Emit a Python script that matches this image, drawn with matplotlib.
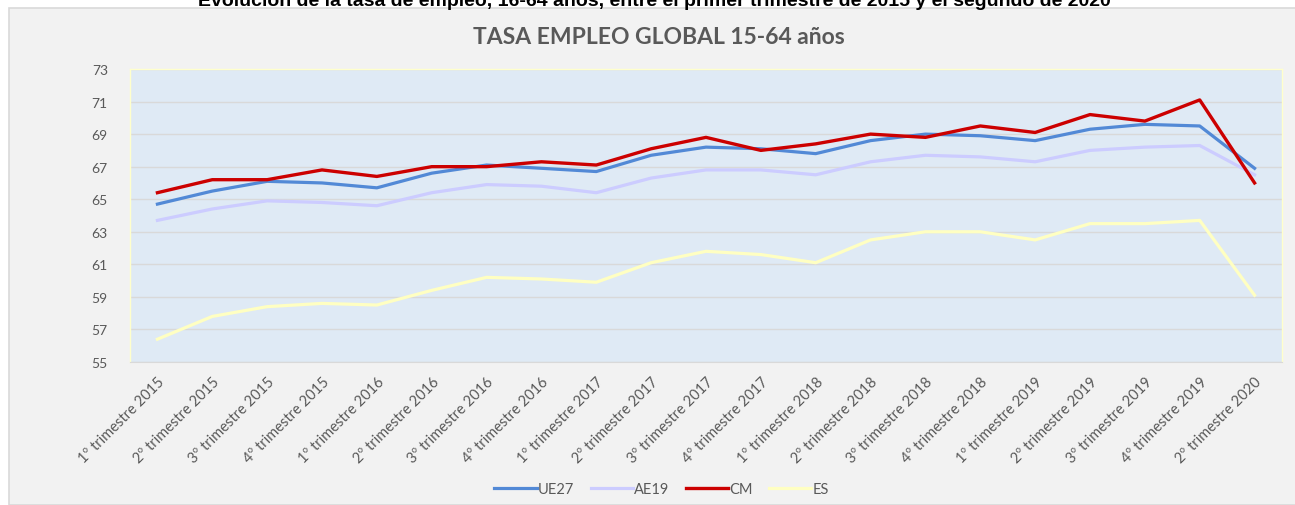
import matplotlib.pyplot as plt
from matplotlib.patches import Rectangle

plt.rcParams['font.family'] = ['Lato', 'DejaVu Sans']

trimestres = [
    "1º trimestre 2015", "2º trimestre 2015", "3º trimestre 2015", "4º trimestre 2015",
    "1º trimestre 2016", "2º trimestre 2016", "3º trimestre 2016", "4º trimestre 2016",
    "1º trimestre 2017", "2º trimestre 2017", "3º trimestre 2017", "4º trimestre 2017",
    "1º trimestre 2018", "2º trimestre 2018", "3º trimestre 2018", "4º trimestre 2018",
    "1º trimestre 2019", "2º trimestre 2019", "3º trimestre 2019", "4º trimestre 2019",
    "2º trimestre 2020",
]

ue27 = [64.7, 65.5, 66.1, 66.0, 65.7, 66.6, 67.1, 66.9, 66.7, 67.7, 68.2,
        68.1, 67.8, 68.6, 69.0, 68.9, 68.6, 69.3, 69.6, 69.5, 66.9]
ae19 = [63.7, 64.4, 64.9, 64.8, 64.6, 65.4, 65.9, 65.8, 65.4, 66.3, 66.8,
        66.8, 66.5, 67.3, 67.7, 67.6, 67.3, 68.0, 68.2, 68.3, 66.5]
cm = [65.4, 66.2, 66.2, 66.8, 66.4, 67.0, 67.0, 67.3, 67.1, 68.1, 68.8,
      68.0, 68.4, 69.0, 68.8, 69.5, 69.1, 70.2, 69.8, 71.1, 66.0]
es = [56.4, 57.8, 58.4, 58.6, 58.5, 59.4, 60.2, 60.1, 59.9, 61.1, 61.8,
      61.6, 61.1, 62.5, 63.0, 63.0, 62.5, 63.5, 63.5, 63.7, 59.1]

gris = "#595959"

fig = plt.figure(figsize=(12.95, 5.06), dpi=100)
fig.patch.set_facecolor("white")

# fondo gris del grafico (recortado arriba por el titulo del documento)
panel = Rectangle((9 / 1295, 0), 1.0, 1 - 9 / 506, transform=fig.transFigure,
                  facecolor="#f2f2f2", edgecolor="#d9d9d9", linewidth=1.2, zorder=-10)
fig.patches.append(panel)

fig.text(0.505, 1 - 6 / 506,
         "Evolución de la tasa de empleo, 16-64 años, entre el primer trimestre de 2015 y el segundo de 2020",
         ha="center", va="baseline", fontsize=14, fontweight="bold",
         family="Liberation Sans", color="black")

fig.text(0.509, 1 - 37 / 506, "TASA EMPLEO GLOBAL 15-64 años", ha="center", va="center",
         fontsize=16.5, fontweight="bold", color=gris)

ax = fig.add_axes([130 / 1295, 1 - 363 / 506, (1282 - 130) / 1295, (363 - 70) / 506])
ax.set_facecolor("#dfeaf5")

x = range(len(trimestres))
ax.plot(x, ue27, color="#5289d6", lw=2.3, label="UE27", zorder=3)
ax.plot(x, ae19, color="#ccccff", lw=2.3, label="AE19", zorder=2)
ax.plot(x, cm, color="#cc0000", lw=2.4, label="CM", zorder=4)
ax.plot(x, es, color="#ffffc2", lw=2.3, label="ES", zorder=2)

ax.set_xlim(-0.5, len(trimestres) - 0.5)
ax.set_ylim(55, 73)
ax.set_yticks(range(55, 74, 2))
ax.set_xticks(list(x))
ax.set_xticklabels(trimestres, rotation=45, ha="right", rotation_mode="anchor")
ax.tick_params(axis="both", length=0, colors=gris)
ax.tick_params(axis="y", pad=16, labelsize=10)
ax.tick_params(axis="x", pad=9, labelsize=10.5)
ax.grid(axis="y", color="#d9d9d9", lw=1)
ax.set_axisbelow(True)

for s in ["left", "top", "right"]:
    ax.spines[s].set_color("#ffffcc")
    ax.spines[s].set_linewidth(1)
ax.spines["bottom"].set_color("#d9d9d9")

fig.legend(loc="center", bbox_to_anchor=(0.511, 1 - 490 / 506), ncol=4, frameon=False,
           fontsize=10.5, labelcolor=gris, handlelength=2.9, handletextpad=0.1,
           columnspacing=1.1)

fig.savefig("out.png", dpi=100)
